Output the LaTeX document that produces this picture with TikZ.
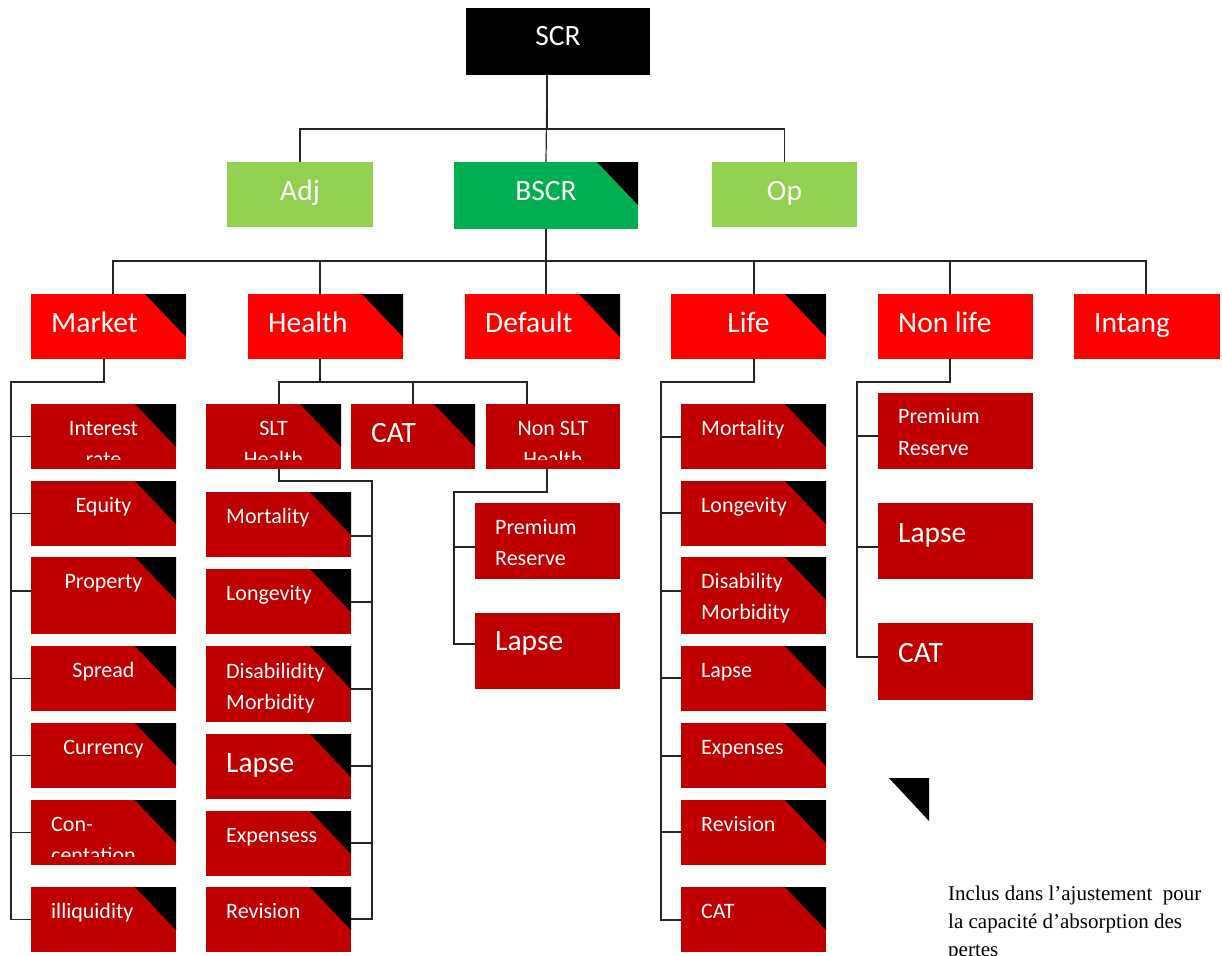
\documentclass[tikz,border=0pt]{standalone}
\usepackage{fontspec}
\setmainfont{Carlito}
\newfontfamily\legendfont{Liberation Serif}

\definecolor{topred}{HTML}{FF0000}
\definecolor{subred}{HTML}{C00000}
\definecolor{bgreen}{HTML}{00B050}
\definecolor{lgreen}{HTML}{92D050}

\tikzset{
  box/.style={rectangle, inner sep=0pt, outer sep=0pt, draw=none},
  conn/.style={draw=black!85, line width=1.2pt},
  bigtxt/.style={font=\fontsize{29.5}{35}\selectfont, text=white, inner sep=0pt},
  smalltxt/.style={font=\fontsize{22}{26}\selectfont, text=white, inner sep=0pt},
  legendtxt/.style={font=\legendfont\fontsize{21}{25}\selectfont, text=black, inner sep=0pt, anchor=base west},
}

% box given by its corners (x1,y1,x2,y2) in pixel units, y downwards
\newcommand\mkbox[6]{%
  \pgfmathsetmacro\bxw{#4-#2}\pgfmathsetmacro\bxh{#5-#3}%
  \pgfmathsetmacro\bxx{(#2+#4)/2}\pgfmathsetmacro\bxy{(#3+#5)/2}%
  \node[box, fill=#6, minimum width=\bxw pt, minimum height=\bxh pt] (#1) at (\bxx,\bxy) {};}
% black flag in the upper right corner of a box
\newcommand\flagcorner[1]{%
  \fill[black] ([xshift=-41pt]#1.north east) -- (#1.north east) -- ([yshift=-43pt]#1.north east) -- cycle;}
% centred / left aligned label: name, style, box, baseline offset, text
\newcommand\ctext[5]{\node[#2, anchor=base] (#1) at ([yshift=-#4pt]#3.north) {#5};}
\newcommand\ltext[5]{\node[#2, anchor=base west] (#1) at ([xshift=20pt,yshift=-#4pt]#3.north west) {#5};}

\begin{document}
\begin{tikzpicture}[x=1pt,y=-1pt]
\useasboundingbox (0,0) rectangle (1222,955);

% ---------- top levels ----------
\mkbox{scr}{466}{8}{650}{75}{black}
\mkbox{adj}{227}{162}{373}{227}{lgreen}
\mkbox{bscr}{454}{162}{638}{229}{bgreen}
\mkbox{op}{712}{162}{857}{227}{lgreen}
\flagcorner{bscr}
\ctext{t-scr}{bigtxt}{scr}{38}{SCR}
\ctext{t-adj}{bigtxt}{adj}{38}{Adj}
\ctext{t-bscr}{bigtxt}{bscr}{38}{BSCR}
\ctext{t-op}{bigtxt}{op}{38}{Op}

% ---------- modules ----------
\mkbox{market}{31}{294}{186}{359}{topred}
\mkbox{health}{248}{294}{403}{359}{topred}
\mkbox{default}{465}{294}{620}{359}{topred}
\mkbox{life}{671}{294}{826}{359}{topred}
\mkbox{nonlife}{878}{294}{1033}{359}{topred}
\mkbox{intang}{1074}{294}{1220}{359}{topred}
\flagcorner{market}\flagcorner{health}\flagcorner{default}\flagcorner{life}
\ltext{t-market}{bigtxt}{market}{38}{Market}
\ltext{t-health}{bigtxt}{health}{38}{Health}
\ltext{t-default}{bigtxt}{default}{38}{Default}
\ctext{t-life}{bigtxt}{life}{38}{Life}
\ltext{t-nonlife}{bigtxt}{nonlife}{38}{Non life}
\ltext{t-intang}{bigtxt}{intang}{38}{Intang}

% ---------- market sub-modules ----------
\mkbox{mk1}{31}{404}{176}{469}{subred}
\mkbox{mk2}{31}{481}{176}{546}{subred}
\mkbox{mk3}{31}{557}{176}{634}{subred}
\mkbox{mk4}{31}{646}{176}{711}{subred}
\mkbox{mk5}{31}{723}{176}{788}{subred}
\mkbox{mk6}{31}{800}{176}{865}{subred}
\mkbox{mk7}{31}{887}{176}{952}{subred}
\foreach \b in {mk1,mk2,mk3,mk4,mk5,mk6,mk7} {\flagcorner{\b}}
\begin{scope}
  \clip (mk1.north west) rectangle ([yshift=10pt]mk1.south east);
  \ctext{t-mk1a}{smalltxt}{mk1}{31}{Interest}
  \ctext{t-mk1b}{smalltxt}{mk1}{62}{rate}
\end{scope}
\ctext{t-mk2}{smalltxt}{mk2}{31}{Equity}
\ctext{t-mk3}{smalltxt}{mk3}{31}{Property}
\ctext{t-mk4}{smalltxt}{mk4}{31}{Spread}
\ctext{t-mk5}{smalltxt}{mk5}{31}{Currency}
\begin{scope}
  \clip (mk6.north west) rectangle ([yshift=9pt]mk6.south east);
  \ltext{t-mk6a}{smalltxt}{mk6}{31}{Con-}
  \ltext{t-mk6b}{smalltxt}{mk6}{62}{centation}
\end{scope}
\ltext{t-mk7}{smalltxt}{mk7}{31}{illiquidity}

% ---------- health sub-modules ----------
\mkbox{slt}{206}{404}{341}{469}{subred}
\mkbox{hcat}{351}{404}{475}{469}{subred}
\mkbox{nslt}{486}{404}{620}{469}{subred}
\flagcorner{slt}\flagcorner{hcat}
\begin{scope}
  \clip (slt.north west) rectangle ([yshift=10pt]slt.south east);
  \ctext{t-slta}{smalltxt}{slt}{31}{SLT}
  \ctext{t-sltb}{smalltxt}{slt}{62}{Health}
\end{scope}
\ltext{t-hcat}{bigtxt}{hcat}{38}{CAT}
\begin{scope}
  \clip (nslt.north west) rectangle ([yshift=10pt]nslt.south east);
  \ctext{t-nslta}{smalltxt}{nslt}{31}{Non SLT}
  \ctext{t-nsltb}{smalltxt}{nslt}{62}{Health}
\end{scope}

\mkbox{s1}{206}{492}{351}{557}{subred}
\mkbox{s2}{206}{569}{351}{634}{subred}
\mkbox{s3}{206}{646}{351}{722}{subred}
\mkbox{s4}{206}{734}{351}{799}{subred}
\mkbox{s5}{206}{811}{351}{876}{subred}
\mkbox{s6}{206}{887}{351}{952}{subred}
\foreach \b in {s1,s2,s3,s4,s5,s6} {\flagcorner{\b}}
\ltext{t-s1}{smalltxt}{s1}{31}{Mortality}
\ltext{t-s2}{smalltxt}{s2}{31}{Longevity}
\ltext{t-s3a}{smalltxt}{s3}{32}{Disabilidity}
\ltext{t-s3b}{smalltxt}{s3}{63}{Morbidity}
\ltext{t-s4}{bigtxt}{s4}{38}{Lapse}
\ltext{t-s5}{smalltxt}{s5}{31}{Expensess}
\ltext{t-s6}{smalltxt}{s6}{31}{Revision}

\mkbox{n1}{475}{503}{620}{579}{subred}
\mkbox{n2}{475}{613}{620}{689}{subred}
\ltext{t-n1a}{smalltxt}{n1}{31}{Premium}
\ltext{t-n1b}{smalltxt}{n1}{62}{Reserve}
\ltext{t-n2}{bigtxt}{n2}{37}{Lapse}

% ---------- life sub-modules ----------
\mkbox{l1}{681}{404}{826}{469}{subred}
\mkbox{l2}{681}{481}{826}{546}{subred}
\mkbox{l3}{681}{557}{826}{634}{subred}
\mkbox{l4}{681}{646}{826}{711}{subred}
\mkbox{l5}{681}{723}{826}{788}{subred}
\mkbox{l6}{681}{800}{826}{865}{subred}
\mkbox{l7}{681}{887}{826}{952}{subred}
\foreach \b in {l1,l2,l3,l4,l5,l6,l7} {\flagcorner{\b}}
\ltext{t-l1}{smalltxt}{l1}{31}{Mortality}
\ltext{t-l2}{smalltxt}{l2}{31}{Longevity}
\ltext{t-l3a}{smalltxt}{l3}{31}{Disability}
\ltext{t-l3b}{smalltxt}{l3}{62}{Morbidity}
\ltext{t-l4}{smalltxt}{l4}{31}{Lapse}
\ltext{t-l5}{smalltxt}{l5}{31}{Expenses}
\ltext{t-l6}{smalltxt}{l6}{31}{Revision}
\ltext{t-l7}{smalltxt}{l7}{31}{CAT}

% ---------- non life sub-modules ----------
\mkbox{nl1}{878}{393}{1033}{469}{subred}
\mkbox{nl2}{878}{503}{1033}{579}{subred}
\mkbox{nl3}{878}{623}{1033}{700}{subred}
\ltext{t-nl1a}{smalltxt}{nl1}{30}{Premium}
\ltext{t-nl1b}{smalltxt}{nl1}{62}{Reserve}
\ltext{t-nl2}{bigtxt}{nl2}{39}{Lapse}
\ltext{t-nl3}{bigtxt}{nl3}{39}{CAT}

% ---------- connectors ----------
\draw[conn] ([xshift=-11pt]scr.south) -- (bscr.north);
\draw[conn] ([xshift=-11pt]scr.south) -- ++(0,54) -| (adj.north);
\draw[conn] ([xshift=-11pt]scr.south) -- ++(0,54) -| (op.north);

\draw[conn] (bscr.south) -- ([xshift=3.5pt]default.north);
\draw[conn] (bscr.south) -- ++(0,32) -| ([xshift=4.5pt]market.north);
\draw[conn] (bscr.south) -- ++(0,32) -| ([xshift=-5.5pt]health.north);
\draw[conn] (bscr.south) -- ++(0,32) -| ([xshift=5.5pt]life.north);
\draw[conn] (bscr.south) -- ++(0,32) -| ([xshift=-5.5pt]nonlife.north);
\draw[conn] (bscr.south) -- ++(0,32) -| ([xshift=-1pt]intang.north);

% market
\draw[conn] ([xshift=-4.5pt]market.south) -- ++(0,23) -| ([xshift=-20pt]mk7.west) -- (mk7.west);
\foreach \b in {mk1,mk2,mk4,mk5,mk6} {\draw[conn] (\b.west) -- ++(-20,0);}
\draw[conn] ([yshift=-34pt]mk3.north west) -- ++(-20,0);

% health
\draw[conn] ([xshift=-5.5pt]health.south) -- ++(0,23) -| ([xshift=5.5pt]slt.north);
\draw[conn] ([xshift=-5.5pt]health.south) -- ++(0,23) -| ([xshift=-26pt]nslt.north);
\draw[conn] (hcat.north) -- ++(0,-22);

\draw[conn] ([xshift=5.5pt]slt.south) -- ++(0,12) -| ([xshift=21pt,yshift=-32pt]s6.north east) -- ([yshift=-32pt]s6.north east);
\draw[conn] ([yshift=-44pt]s1.north east) -- ++(21,0);
\draw[conn] ([yshift=-33pt]s2.north east) -- ++(21,0);
\draw[conn] ([yshift=-43pt]s3.north east) -- ++(21,0);
\draw[conn] ([yshift=-32pt]s4.north east) -- ++(21,0);
\draw[conn] ([yshift=-32pt]s5.north east) -- ++(21,0);

\draw[conn] ([xshift=-6pt]nslt.south) -- ++(0,23) -| ([xshift=-21pt,yshift=-31pt]n2.north west) -- ([yshift=-31pt]n2.north west);
\draw[conn] ([yshift=-44pt]n1.north west) -- ++(-21,0);

% life
\draw[conn] ([xshift=5.5pt]life.south) -- ++(0,23) -| ([xshift=-20pt,yshift=-33pt]l7.north west) -- ([yshift=-33pt]l7.north west);
\draw[conn] ([yshift=-33pt]l1.north west) -- ++(-20,0);
\draw[conn] ([yshift=-32pt]l2.north west) -- ++(-20,0);
\draw[conn] ([yshift=-34pt]l3.north west) -- ++(-20,0);
\draw[conn] ([yshift=-32pt]l4.north west) -- ++(-20,0);
\draw[conn] ([yshift=-33pt]l5.north west) -- ++(-20,0);
\draw[conn] ([yshift=-32pt]l6.north west) -- ++(-20,0);

% non life
\draw[conn] ([xshift=-5.5pt]nonlife.south) -- ++(0,23) -| ([xshift=-21pt,yshift=-34pt]nl3.north west) -- ([yshift=-34pt]nl3.north west);
\draw[conn] ([yshift=-43pt]nl1.north west) -- ++(-21,0);
\draw[conn] ([yshift=-44pt]nl2.north west) -- ++(-21,0);

% ---------- legend ----------
\fill[black] (889,778) -- (929,778) -- (929,821) -- cycle;
\node[legendtxt] (leg1) at (948,900) {Inclus dans l’ajustement\ \ pour};
\node[legendtxt] (leg2) at (948,928) {la capacité d’absorption des};
\node[legendtxt] (leg3) at (948,956) {pertes};
\end{tikzpicture}
\end{document}
